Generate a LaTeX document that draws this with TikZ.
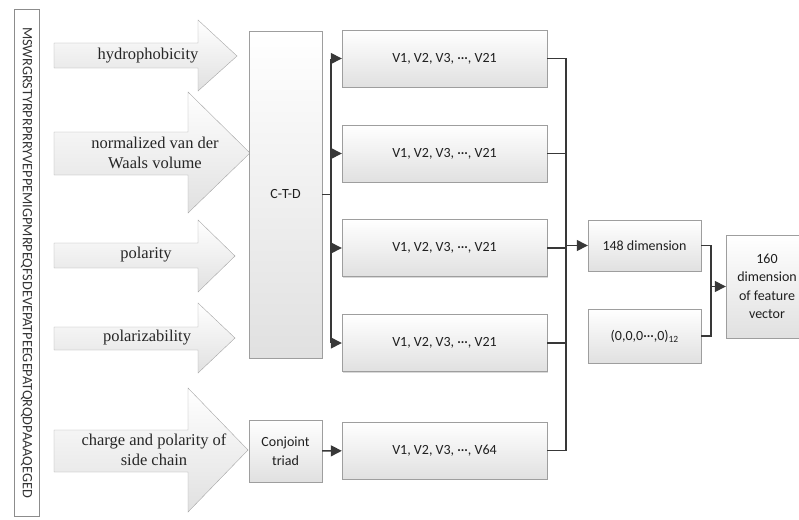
\documentclass[tikz,border=0pt]{standalone}
\usepackage{fontspec}
\setmainfont{Liberation Serif}
\newfontfamily\boxfont{Carlito}
\usetikzlibrary{arrows.meta,shadows}

\tikzstyle{box} = [draw=black!38, top color=white, bottom color=black!12, inner sep=2pt,
    align=center, font=\boxfont\fontsize{14}{18.5}\selectfont, text=black!88,
    drop shadow={shadow xshift=1.2pt, shadow yshift=-1.2pt, opacity=0.3}]
\tikzstyle{blockarrow} = [draw=black!35, top color=white, bottom color=black!12, line join=miter]
\tikzstyle{arrowtext} = [align=center, font=\fontsize{16.5}{20}\selectfont, text=black!85]
\tikzstyle{bus} = [draw=black!78, line width=1.4pt]
\tikzstyle{feed} = [bus, -{Triangle[length=11pt,width=11pt]}]

\begin{document}
\begin{tikzpicture}[x=1pt, y=-1pt]
            \useasboundingbox (0,0) rectangle (799,519);

            % sequence
            \node[draw=black!45, fill=white, minimum width=507, minimum height=25, inner sep=0pt,
                  rotate=-90, font=\boxfont\fontsize{14.3}{16}\selectfont, text=black!80]
                  (seq) at (26.5, 262.5) {MSWRGRSTYRPRPRRYVEPPEMIGPMRPEQFSDEVEPATPEEGEPATQRQDPAAAQEGED};

            % property arrows
            \draw[blockarrow] (54,43) -- (198,43) -- (198,20) -- (237,56) -- (198,91) -- (198,68) -- (54,68) -- cycle;
            \draw[blockarrow] (54,132) -- (188,132) -- (188,92) -- (250,153) -- (188,213) -- (188,175) -- (54,175) -- cycle;
            \draw[blockarrow] (54,243) -- (198,243) -- (198,220) -- (235,256) -- (198,292) -- (198,268) -- (54,268) -- cycle;
            \draw[blockarrow] (54,327) -- (198,327) -- (198,303) -- (235,338) -- (198,373) -- (198,350) -- (54,350) -- cycle;
            \draw[blockarrow] (54,430) -- (188,430) -- (188,388) -- (248,450) -- (188,512) -- (188,472) -- (54,472) -- cycle;

            \node[arrowtext]   (hydro)  at (148,  56)   {hydrophobicity};
            \node[arrowtext]   (vdw)    at (155, 153)   {normalized van der\\Waals volume};
            \node[arrowtext]   (pol)    at (146, 255)   {polarity};
            \node[arrowtext]   (polz)   at (147, 338)   {polarizability};
            \node[arrowtext]   (charge) at (154, 450)   {charge and polarity of\\side chain};

            % encoders
            \node[box, minimum width=73, minimum height=327]  (ctd)  at (285.5, 194.5) {C-T-D};
            \node[box, minimum width=73, minimum height=62]   (conj) at (285.5, 451)   {Conjoint\\triad};

            % descriptor vectors
            \node[box, minimum width=205, minimum height=57]  (v1)   at (444.5,  58.5) {V1, V2, V3, ···, V21};
            \node[box, minimum width=205, minimum height=57]  (v2)   at (444.5, 153.5) {V1, V2, V3, ···, V21};
            \node[box, minimum width=205, minimum height=57]  (v3)   at (444.5, 248)   {V1, V2, V3, ···, V21};
            \node[box, minimum width=205, minimum height=57]  (v4)   at (444.5, 343)   {V1, V2, V3, ···, V21};
            \node[box, minimum width=205, minimum height=57]  (v5)   at (444.5, 450.5) {V1, V2, V3, ···, V64};

            \node[box, minimum width=113, minimum height=51]  (d148)  at (644.5, 245.5) {148 dimension};
            \node[box, minimum width=113, minimum height=54]  (zeros) at (644.5, 336)   {(0,0,0···,0)\raisebox{-0.3ex}{\fontsize{9.5}{9.5}\selectfont 12}};
            \node[box, minimum width=82,  minimum height=103] (d160)  at (767, 286.5)   {160\\dimension\\of feature\\vector};

            \coordinate (lbus) at (331, 194.5);
            \coordinate (rbus) at (566, 248);
            \coordinate (jbus) at (711, 287);

            % C-T-D to vectors
            \draw[bus] (ctd.east) -- (lbus);
            \draw[bus] (v1.west -| lbus) -- (v4.west -| lbus);
            \draw[feed] (v1.west -| lbus) -- (v1.west);
            \draw[feed] (v2.west -| lbus) -- (v2.west);
            \draw[feed] (v3.west -| lbus) -- (v3.west);
            \draw[feed] (v4.west -| lbus) -- (v4.west);
            \draw[feed] (conj) -- (v5);

            % vectors to 148 dimension
            \draw[bus] (v1.east) -- (v1.east -| rbus) -- (v5.east -| rbus) -- (v5.east);
            \draw[bus] (v2.east) -- (v2.east -| rbus);
            \draw[bus] (v3.east) -- (v3.east -| rbus);
            \draw[bus] (v4.east) -- (v4.east -| rbus);
            \draw[feed] (d148.west -| rbus) -- (d148.west);

            % join
            \draw[bus] (d148.east) -- (d148.east -| jbus) -- (zeros.east -| jbus) -- (zeros.east);
            \draw[feed] (d160.west -| jbus) -- (d160.west);
        \end{tikzpicture}
\end{document}
